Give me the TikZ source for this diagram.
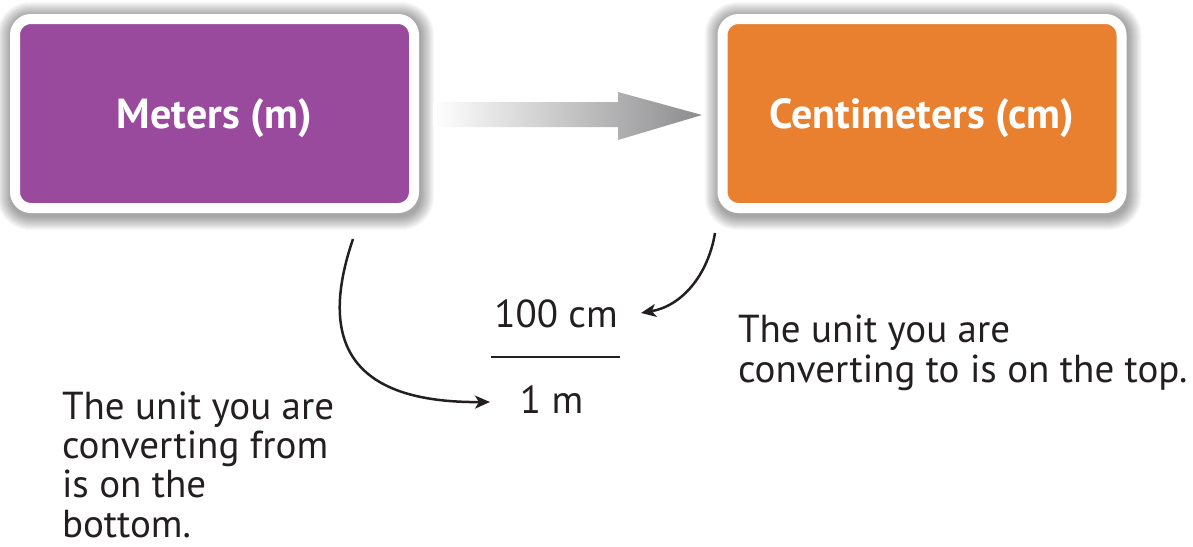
\documentclass[tikz,border=0pt]{standalone}
\usepackage{fontspec}
\setmainfont{PT Sans}
\usetikzlibrary{arrows.meta,calc,backgrounds}
\definecolor{purp}{RGB}{153,74,157}
\definecolor{orng}{RGB}{232,128,47}
\definecolor{ink}{RGB}{35,31,32}
\definecolor{arrowgrey}{RGB}{140,140,142}
\begin{document}
\begin{tikzpicture}[x=1pt,y=-1pt,
  unitbox/.style={rectangle, rounded corners=16pt, draw=white, line width=10pt,
    minimum width=399pt, minimum height=189pt, outer sep=0pt, inner sep=0pt,
    text depth=0pt, text=white, font=\fontsize{42}{46}\selectfont\bfseries},
  lbl/.style={inner sep=0pt, outer sep=0pt, text=ink, font=\fontsize{39}{40}\selectfont},
  note/.style={inner sep=0pt, outer sep=0pt, text=ink, align=left,
    font=\fontsize{39}{39.3}\selectfont},
  curvearrow/.style={draw=ink, line width=2.5pt,
    -{Stealth[length=15pt,width=13pt,inset=4pt]}}]
\useasboundingbox (0,0) rectangle (1193,546);

% boxes
\node[unitbox, fill=purp] (m) at (214.5,113.5) {Meters (m)};
\node[unitbox, fill=orng] (c) at (922,113.5) {Centimeters (cm)};

% soft shadows behind boxes
\begin{scope}[on background layer]
\fill[white] (0,0) rectangle (1193,546);
\foreach \n in {m,c}{
  \foreach \i in {1,...,14}{
    \fill[black, opacity=0.026, rounded corners=19pt+\i pt]
      ($(\n.north west)+(-5-\i+1,-5-\i+2)$) rectangle ($(\n.south east)+(5+\i+1,5+\i+3)$);
  }
}
\end{scope}

% big shaded arrow
\shade[left color=white, right color=arrowgrey]
  (433,102) -- (618,102) -- (618,92) -- (702,115) -- (618,140) -- (618,127) -- (433,127) -- cycle;

% fraction
\node[lbl, anchor=base] (top) at (556,327) {100 cm};
\node[lbl, anchor=base] (bot) at (551.5,413) {1 m};
\coordinate (fl) at (491,357);
\coordinate (fr) at (620,357);
\draw[ink, line width=2pt] (fl) -- (fr);

% curved arrows
\coordinate (a1s) at (353,239);
\coordinate (a1e) at (490,402);
\draw[curvearrow] (a1s) .. controls (322,330) and (338,403) .. (a1e);
\coordinate (a2s) at (715,233);
\coordinate (a2e) at (641,313);
\draw[curvearrow] (a2s) .. controls (708,275) and (682,306) .. (a2e);

% notes (anchor at baseline of last line)
\node[note, anchor=base west] (n1) at (62,537) {The unit you are\\converting from\\is on the\\bottom.};
\node[note, anchor=base west] (n2) at (738,382) {The unit you are\\converting to is on the top.};
\end{tikzpicture}
\end{document}
